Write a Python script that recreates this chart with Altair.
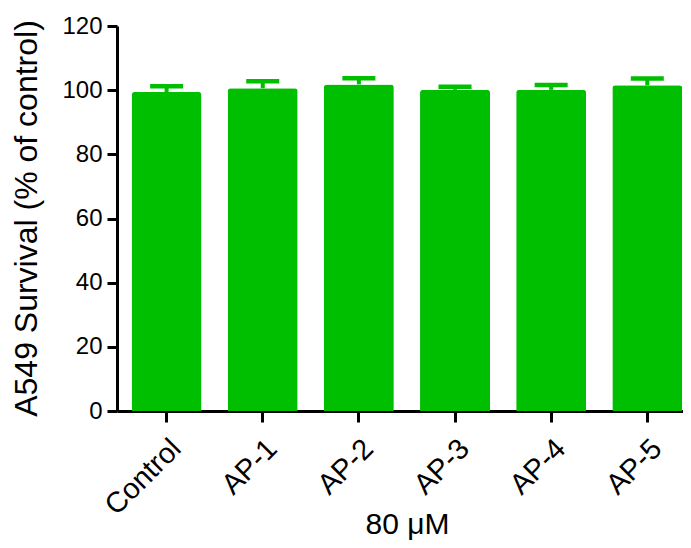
import altair as alt
import pandas as pd

categories = ["Control", "AP-1", "AP-2", "AP-3", "AP-4", "AP-5"]
survival = [99.4, 100.6, 101.8, 100.1, 100.1, 101.5]
sem = [1.8, 2.2, 1.9, 1.0, 1.5, 2.1]

df = pd.DataFrame({"group": categories, "value": survival, "sem": sem})
df["upper"] = df["value"] + df["sem"]

GREEN = "#00BE00"
FONT = "Liberation Sans"

xscale = alt.Scale(domain=categories, paddingInner=0.272, paddingOuter=0.0796, align=0.954)
yscale = alt.Scale(domain=[0, 120], nice=False)

x_axis = alt.Axis(
    title="80 μM",
    labelAngle=315,
    labelAlign="right",
    labelBaseline="alphabetic",
    labelOffset=16,
    labelPadding=28,
    labelFontSize=29,
    tickSize=11,
    titleFontSize=30,
    titleFontWeight="normal",
    titleX=290,
    titleY=122,
    titleBaseline="alphabetic",
    titleAlign="center",
)
y_axis = alt.Axis(
    title="A549 Survival (% of control)",
    values=[0, 20, 40, 60, 80, 100, 120],
    labelFontSize=24,
    labelPadding=5,
    tickSize=10,
    titleFontSize=32,
    titleFontWeight="normal",
    titleAngle=270,
    titleX=-81,
    titleY=192,
    titleBaseline="alphabetic",
    titleAlign="center",
    grid=False,
)

base = alt.Chart(df)

bars = base.mark_bar(color=GREEN, cornerRadiusTopLeft=3, cornerRadiusTopRight=3).encode(
    x=alt.X("group:N", sort=categories, scale=xscale, axis=x_axis),
    y=alt.Y("value:Q", scale=yscale, axis=y_axis),
)

stems = base.mark_rule(color=GREEN, strokeWidth=4, opacity=1).encode(
    x=alt.X("group:N", sort=categories, scale=xscale),
    y=alt.Y("value:Q", scale=yscale),
    y2="upper:Q",
)

caps = base.mark_tick(color=GREEN, orient="horizontal", size=33, thickness=4.5, opacity=1).encode(
    x=alt.X("group:N", sort=categories, scale=xscale),
    y=alt.Y("upper:Q", scale=yscale),
)

chart = (
    alt.layer(bars, stems, caps)
    .properties(
        width=566,
        height=385,
        autosize=alt.AutoSizeParams(type="none"),
        padding={"left": 109, "top": 18, "right": 0, "bottom": 129},
    )
    .configure(font=FONT)
    .configure_view(stroke=None)
    .configure_axis(
        domainColor="black",
        domainWidth=3,
        tickColor="black",
        tickWidth=3,
        labelColor="black",
        titleColor="black",
        labelFont=FONT,
        titleFont=FONT,
        grid=False,
    )
)

chart.save("out.html", embed_options={"renderer": "svg", "actions": False})
